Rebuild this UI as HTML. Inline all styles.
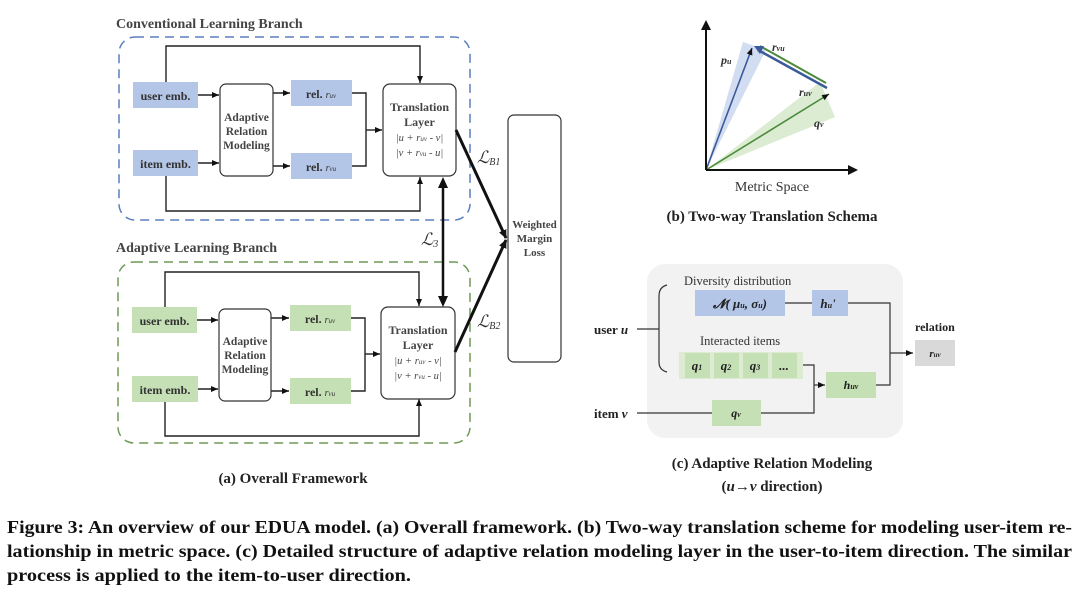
<!DOCTYPE html>
<html><head><meta charset="utf-8"><style>
html,body{margin:0;padding:0;background:#fff;}
svg{display:block;font-family:"Liberation Serif",serif;}
.b{font-weight:bold;}
</style></head><body>
<svg width="1080" height="593" viewBox="0 0 1080 593" xmlns="http://www.w3.org/2000/svg">
<defs>
<marker id="ar" markerWidth="8" markerHeight="8" refX="7" refY="4" orient="auto" markerUnits="userSpaceOnUse"><path d="M0,1 L7,4 L0,7 z" fill="#111"/></marker>
<marker id="ar2" markerWidth="10" markerHeight="10" refX="8" refY="5" orient="auto" markerUnits="userSpaceOnUse"><path d="M0,1 L9,5 L0,9 z" fill="#111"/></marker>
</defs>

<!-- (a) Conventional -->
<text x="116" y="28" class="b" font-size="14" fill="#444">Conventional Learning Branch</text>
<rect x="119" y="37" width="351" height="183" rx="16" fill="none" stroke="#5b7fbf" stroke-width="1.5" stroke-dasharray="9,6"/>
<g stroke="#222" stroke-width="1.4" fill="none">
<polyline points="166,82 166,46 420,46 420,83" marker-end="url(#ar)"/>
<polyline points="166,176 166,211 420,211 420,177" marker-end="url(#ar)"/>
<line x1="198" y1="95" x2="219" y2="95" marker-end="url(#ar)"/>
<line x1="198" y1="163" x2="219" y2="163" marker-end="url(#ar)"/>
<line x1="273" y1="93" x2="290" y2="93" marker-end="url(#ar)"/>
<line x1="273" y1="166" x2="290" y2="166" marker-end="url(#ar)"/>
<polyline points="352,93 366,93 366,166 352,166"/>
<line x1="366" y1="130" x2="382" y2="130" marker-end="url(#ar)"/>
</g>
<rect x="133" y="82" width="65" height="26" fill="#b4c6e7"/>
<text x="165.5" y="100" text-anchor="middle" class="b" font-size="12" fill="#333">user emb.</text>
<rect x="133" y="150" width="65" height="26" fill="#b4c6e7"/>
<text x="165.5" y="168" text-anchor="middle" class="b" font-size="12" fill="#333">item emb.</text>
<rect x="220" y="84" width="53" height="92" rx="6" fill="#fff" stroke="#333" stroke-width="1.2"/>
<text text-anchor="middle" class="b" font-size="11.5" fill="#444"><tspan x="246.5" y="121">Adaptive</tspan><tspan x="246.5" y="135">Relation</tspan><tspan x="246.5" y="149">Modeling</tspan></text>
<rect x="291" y="80" width="61" height="26" fill="#b4c6e7"/>
<text x="321" y="98" text-anchor="middle" class="b" font-size="12" fill="#333">rel. <tspan font-style="italic" font-weight="normal" font-size="10">r<tspan font-size="7">uv</tspan></tspan></text>
<rect x="291" y="153" width="61" height="26" fill="#b4c6e7"/>
<text x="321" y="171" text-anchor="middle" class="b" font-size="12" fill="#333">rel. <tspan font-style="italic" font-weight="normal" font-size="10">r<tspan font-size="7">vu</tspan></tspan></text>
<rect x="383" y="84" width="73" height="92" rx="7" fill="#fff" stroke="#333" stroke-width="1.2"/>
<text text-anchor="middle" class="b" font-size="12" fill="#444"><tspan x="419.5" y="111">Translation</tspan><tspan x="419.5" y="126">Layer</tspan></text>
<text text-anchor="middle" font-size="10.5" fill="#444" font-style="italic"><tspan x="419.5" y="141">|u + r<tspan font-size="7">uv</tspan> - v|</tspan><tspan x="419.5" y="156">|v + r<tspan font-size="7">vu</tspan> - u|</tspan></text>

<!-- (a) Adaptive -->
<text x="116" y="252" class="b" font-size="14" fill="#444">Adaptive Learning Branch</text>
<rect x="118" y="262" width="352" height="181" rx="16" fill="none" stroke="#6f9a56" stroke-width="1.5" stroke-dasharray="9,6"/>
<g stroke="#222" stroke-width="1.4" fill="none">
<polyline points="165,307 165,272 419,272 419,306" marker-end="url(#ar)"/>
<polyline points="165,402 165,436 419,436 419,399" marker-end="url(#ar)"/>
<line x1="197" y1="320" x2="218" y2="320" marker-end="url(#ar)"/>
<line x1="198" y1="389" x2="218" y2="389" marker-end="url(#ar)"/>
<line x1="271" y1="318" x2="289" y2="318" marker-end="url(#ar)"/>
<line x1="271" y1="391" x2="289" y2="391" marker-end="url(#ar)"/>
<polyline points="351,318 365,318 365,391 351,391"/>
<line x1="365" y1="354" x2="380" y2="354" marker-end="url(#ar)"/>
</g>
<rect x="132" y="307" width="65" height="26" fill="#c5e0b4"/>
<text x="164.5" y="325" text-anchor="middle" class="b" font-size="12" fill="#333">user emb.</text>
<rect x="132" y="376" width="66" height="26" fill="#c5e0b4"/>
<text x="165" y="394" text-anchor="middle" class="b" font-size="12" fill="#333">item emb.</text>
<rect x="219" y="309" width="52" height="92" rx="6" fill="#fff" stroke="#333" stroke-width="1.2"/>
<text text-anchor="middle" class="b" font-size="11.5" fill="#444"><tspan x="245" y="345">Adaptive</tspan><tspan x="245" y="359">Relation</tspan><tspan x="245" y="373">Modeling</tspan></text>
<rect x="290" y="305" width="61" height="26" fill="#c5e0b4"/>
<text x="320" y="323" text-anchor="middle" class="b" font-size="12" fill="#333">rel. <tspan font-style="italic" font-weight="normal" font-size="10">r<tspan font-size="7">uv</tspan></tspan></text>
<rect x="290" y="378" width="61" height="26" fill="#c5e0b4"/>
<text x="320" y="396" text-anchor="middle" class="b" font-size="12" fill="#333">rel. <tspan font-style="italic" font-weight="normal" font-size="10">r<tspan font-size="7">vu</tspan></tspan></text>
<rect x="381" y="307" width="74" height="92" rx="7" fill="#fff" stroke="#333" stroke-width="1.2"/>
<text text-anchor="middle" class="b" font-size="12" fill="#444"><tspan x="418" y="334">Translation</tspan><tspan x="418" y="349">Layer</tspan></text>
<text text-anchor="middle" font-size="10.5" fill="#444" font-style="italic"><tspan x="418" y="364">|u + r<tspan font-size="7">uv</tspan> - v|</tspan><tspan x="418" y="379">|v + r<tspan font-size="7">vu</tspan> - u|</tspan></text>

<!-- loss -->
<rect x="508" y="115" width="53" height="247" rx="6" fill="#fff" stroke="#333" stroke-width="1.2"/>
<text text-anchor="middle" class="b" font-size="11" fill="#444"><tspan x="534.5" y="228">Weighted</tspan><tspan x="534.5" y="242">Margin</tspan><tspan x="534.5" y="256">Loss</tspan></text>
<g stroke="#111" stroke-width="3" fill="none">
<line x1="456" y1="130" x2="506" y2="238" marker-end="url(#ar2)"/>
<line x1="455" y1="352" x2="506" y2="240" marker-end="url(#ar2)"/>
</g>
<line x1="443" y1="186" x2="443" y2="298" stroke="#111" stroke-width="2.5"/>
<path d="M443,177 L438,188 L448,188 z M443,307 L438,296 L448,296 z" fill="#111"/>
<text x="477" y="163" font-size="17" font-style="italic" fill="#333">ℒ<tspan font-size="10" dy="2">B1</tspan></text>
<text x="477" y="327" font-size="17" font-style="italic" fill="#333">ℒ<tspan font-size="10" dy="2">B2</tspan></text>
<text x="421" y="245" font-size="17" font-style="italic" fill="#333">ℒ<tspan font-size="10" dy="2">3</tspan></text>
<text x="293" y="483" text-anchor="middle" class="b" font-size="15" fill="#222">(a) Overall Framework</text>

<!-- (b) -->
<polygon points="706,170 743,42 766,50" fill="#b4c6e7" opacity="0.6"/>
<polygon points="706,170 820,82 835,117" fill="#c5e0b4" opacity="0.6"/>
<g stroke-width="1.6" fill="none">
<line x1="706" y1="170" x2="752" y2="48" stroke="#3a5a9a" marker-end="url(#ar)"/>
<line x1="706" y1="170" x2="829" y2="94" stroke="#4a8a3a" marker-end="url(#ar)"/>
<line x1="827" y1="88" x2="758" y2="50" stroke="#3a5a9a" stroke-width="2.5"/>
<line x1="760" y1="46" x2="826" y2="83" stroke="#4a8a3a" stroke-width="2"/>
</g>
<path d="M754,46 L764,46 L760,54 z" fill="#3a5a9a"/>
<line x1="706" y1="170" x2="706" y2="28" stroke="#111" stroke-width="2"/>
<path d="M706,20 L701,30 L711,30 z" fill="#111"/>
<line x1="706" y1="170" x2="850" y2="170" stroke="#111" stroke-width="2"/>
<path d="M858,170 L848,165 L848,175 z" fill="#111"/>
<text x="721" y="64" font-size="12" font-style="italic" class="b" fill="#333">p<tspan font-size="8">u</tspan></text>
<text x="772" y="51" font-size="12" font-style="italic" class="b" fill="#333">r<tspan font-size="8">vu</tspan></text>
<text x="799" y="96" font-size="12" font-style="italic" class="b" fill="#333">r<tspan font-size="8">uv</tspan></text>
<text x="814" y="127" font-size="12" font-style="italic" class="b" fill="#333">q<tspan font-size="8">v</tspan></text>
<text x="772" y="191" text-anchor="middle" font-size="14" fill="#333">Metric Space</text>
<text x="772" y="221" text-anchor="middle" class="b" font-size="15" fill="#222">(b) Two-way Translation Schema</text>

<!-- (c) -->
<rect x="647" y="264" width="256" height="174" rx="18" fill="#f2f2f2"/>
<text x="684" y="285" font-size="12.5" fill="#333">Diversity distribution</text>
<text x="700" y="345" font-size="12.5" fill="#333">Interacted items</text>
<rect x="695" y="290" width="90" height="26" fill="#b4c6e7"/>
<text x="740" y="308" text-anchor="middle" class="b" font-size="13" fill="#222" font-style="italic">𝓝( μ<tspan font-size="8">u</tspan>,  σ<tspan font-size="8">u</tspan>)</text>
<rect x="812" y="290" width="36" height="26" fill="#b4c6e7"/>
<text x="828" y="308" text-anchor="middle" class="b" font-size="13" fill="#222" font-style="italic">h<tspan font-size="8">u</tspan>'</text>
<rect x="679" y="352" width="124" height="27" fill="#dcebd2"/>
<rect x="685" y="353" width="25" height="25" fill="#c5e0b4"/>
<rect x="714" y="353" width="25" height="25" fill="#c5e0b4"/>
<rect x="743" y="353" width="25" height="25" fill="#c5e0b4"/>
<rect x="772" y="353" width="25" height="25" fill="#c5e0b4"/>
<text y="370" text-anchor="middle" class="b" font-size="13" fill="#222" font-style="italic"><tspan x="697">q<tspan font-size="8">1</tspan></tspan><tspan x="726" y="370">q<tspan font-size="8">2</tspan></tspan><tspan x="755" y="370">q<tspan font-size="8">3</tspan></tspan><tspan x="784" y="370">...</tspan></text>
<rect x="826" y="372" width="50" height="26" fill="#c5e0b4"/>
<text x="851" y="389" text-anchor="middle" class="b" font-size="12" fill="#222" font-style="italic">h<tspan font-size="8">uv</tspan></text>
<rect x="712" y="400" width="49" height="26" fill="#c5e0b4"/>
<text x="736" y="417" text-anchor="middle" class="b" font-size="12" fill="#222" font-style="italic">q<tspan font-size="8">v</tspan></text>
<rect x="915" y="340" width="40" height="26" fill="#d9d9d9"/>
<text x="935" y="357" text-anchor="middle" class="b" font-size="11" fill="#222" font-style="italic">r<tspan font-size="7">uv</tspan></text>
<text x="915" y="331" class="b" font-size="12" fill="#222">relation</text>
<text x="594" y="334" class="b" font-size="13" fill="#222">user <tspan font-style="italic">u</tspan></text>
<text x="594" y="418" class="b" font-size="13" fill="#222">item <tspan font-style="italic">v</tspan></text>
<g stroke="#333" stroke-width="1.2" fill="none">
<line x1="637" y1="329" x2="659" y2="329"/>
<path d="M667,285 Q659,287 659,296 L659,362 Q659,370 667,372"/>
<line x1="785" y1="303" x2="812" y2="303"/>
<polyline points="848,303 890,303 890,385 876,385"/>
<line x1="890" y1="353" x2="913" y2="353" marker-end="url(#ar)"/>
<polyline points="803,365 814,365 814,413 761,413"/>
<line x1="814" y1="385" x2="825" y2="385" marker-end="url(#ar)"/>
<line x1="637" y1="413" x2="712" y2="413"/>
</g>
<text x="772" y="468" text-anchor="middle" class="b" font-size="15" fill="#222">(c) Adaptive Relation Modeling</text>
<text x="772" y="491" text-anchor="middle" class="b" font-size="15" fill="#222">(<tspan font-style="italic">u</tspan>→<tspan font-style="italic">v</tspan> direction)</text>

<!-- caption -->
<g class="b" font-size="18" fill="#111">
<text x="7" y="533" textLength="1065" lengthAdjust="spacingAndGlyphs">Figure 3: An overview of our EDUA model. (a) Overall framework. (b) Two-way translation scheme for modeling user-item re-</text>
<text x="7" y="557" textLength="1065" lengthAdjust="spacingAndGlyphs">lationship in metric space. (c) Detailed structure of adaptive relation modeling layer in the user-to-item direction. The similar</text>
<text x="7" y="581" textLength="404" lengthAdjust="spacingAndGlyphs">process is applied to the item-to-user direction.</text>
</g>
</svg>
</body></html>
